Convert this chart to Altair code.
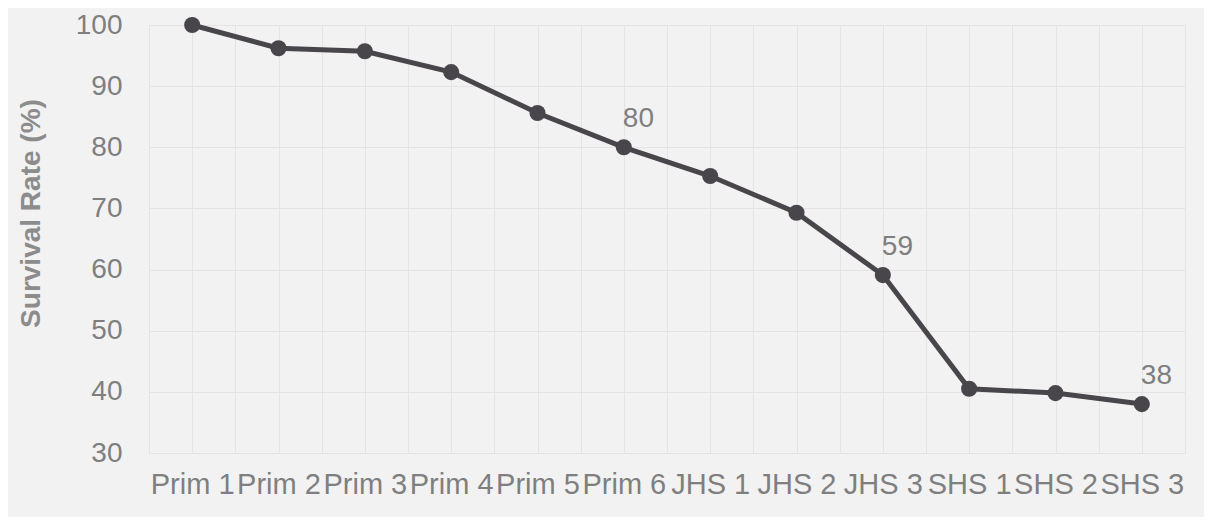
import altair as alt
import pandas as pd

categories = ["Prim 1", "Prim 2", "Prim 3", "Prim 4", "Prim 5", "Prim 6",
              "JHS 1", "JHS 2", "JHS 3", "SHS 1", "SHS 2", "SHS 3"]
survival = [100, 96.2, 95.7, 92.3, 85.6, 80.0, 75.3, 69.3, 59.1, 40.5, 39.8, 38.0]
labeled = ["Prim 6", "JHS 3", "SHS 3"]
y_ticks = [30, 40, 50, 60, 70, 80, 90, 100]

df = pd.DataFrame({
    "idx": list(range(len(categories))),
    "cat": categories,
    "rate": survival,
})
df["label"] = [f"{v:.0f}" if c in labeled else "" for c, v in zip(categories, survival)]

x_vals = [i / 2 - 0.5 for i in range(2 * len(categories) + 1)]
cat_js = "[" + ",".join(f"'{c}'" for c in categories) + "]"

FONT = "Liberation Sans"
LINE = "#48464b"
GRAY = "#7f7f7f"

x_enc = alt.X("idx:Q",
              scale=alt.Scale(domain=[-0.5, len(categories) - 0.5], nice=False, zero=False),
              axis=alt.Axis(values=x_vals, title=None, grid=True, gridColor="#e4e4e4",
                            gridWidth=1, domain=False, ticks=False,
                            labelExpr=f"datum.value % 1 == 0 ? {cat_js}[datum.value] : ''",
                            labelFont=FONT, labelFontSize=29, labelColor=GRAY,
                            labelPadding=17, labelOverlap=False, labelFlush=False))
y_enc = alt.Y("rate:Q",
              scale=alt.Scale(domain=[30, 100], nice=False, zero=False),
              axis=alt.Axis(values=y_ticks, title="Survival Rate (%)", grid=True,
                            gridColor="#e4e4e4", gridWidth=1, domain=False, ticks=False,
                            labelFont=FONT, labelFontSize=28, labelColor=GRAY,
                            labelPadding=27,
                            titleFont=FONT, titleFontSize=28, titleFontWeight="bold",
                            titleColor="#8c8c8c", titleX=-118, titleY=188,
                            titleAngle=-90, titleAlign="center", titleBaseline="middle"))

base = alt.Chart(df)
line = base.mark_line(color=LINE, strokeWidth=5).encode(x=x_enc, y=y_enc)
pts = base.mark_circle(color=LINE, size=260, opacity=1).encode(x="idx:Q", y="rate:Q")
txt = base.mark_text(font=FONT, fontSize=28, color=GRAY, align="left",
                     baseline="alphabetic", dx=-1, dy=-20).encode(
    x="idx:Q", y="rate:Q", text="label:N")

chart = alt.layer(line, pts, txt).properties(
    width=1036, height=428,
    autosize=alt.AutoSizeParams(type="none"),
    padding={"left": 141, "top": 17, "right": 19, "bottom": 64},
    background="#f2f2f2",
).configure_view(stroke=None)

chart.save("out.html", embed_options={"renderer": "svg", "actions": False})
